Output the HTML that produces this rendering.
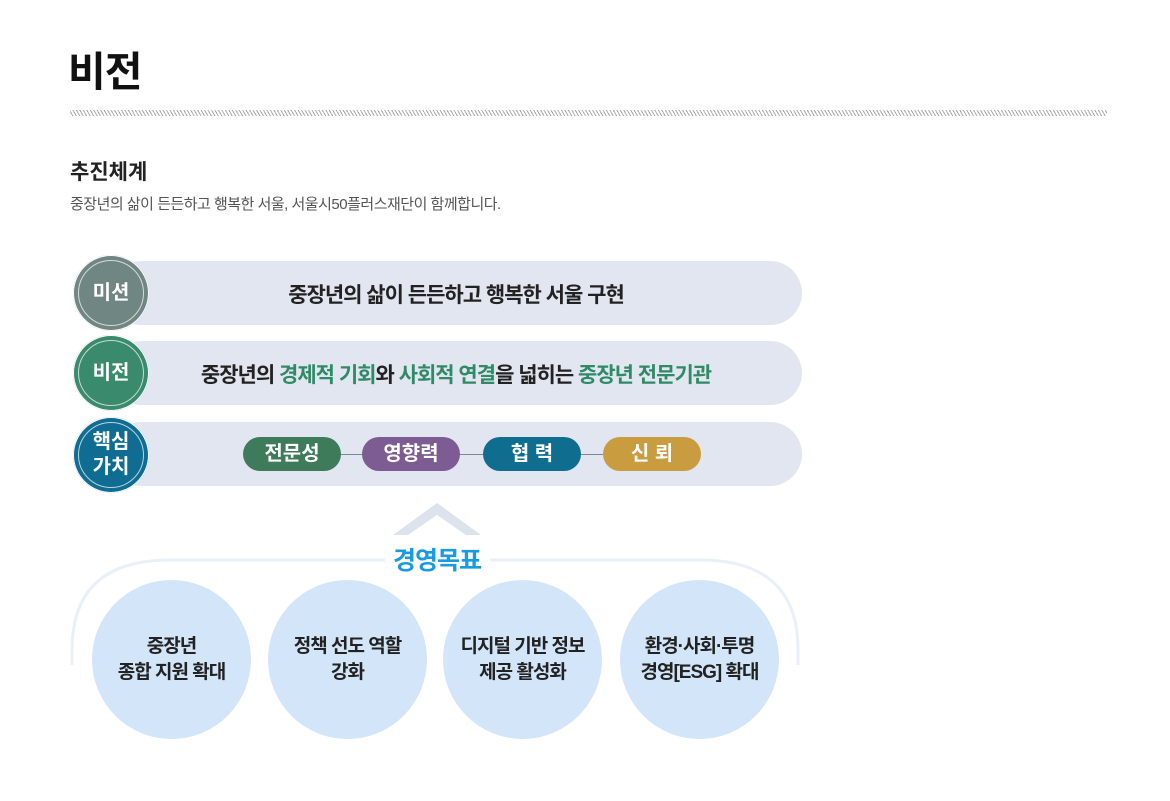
<!DOCTYPE html>
<html><head><meta charset="utf-8"><style>
body{margin:0;width:1170px;height:801px;background:#fff;position:relative;overflow:hidden;font-family:"Liberation Sans","Noto Sans CJK KR",sans-serif;}
.a{position:absolute;}
.t{white-space:nowrap;}
.bar{position:absolute;left:110px;width:692px;height:64px;background:#e1e6f0;border-radius:32px;}
.circ{position:absolute;width:76px;height:76px;border-radius:50%;color:#fff;font-weight:bold;font-size:20px;display:flex;align-items:center;justify-content:center;text-align:center;line-height:25px;box-shadow:0 0 0 1px #fff inset;}
.circ:after{content:"";position:absolute;left:5px;top:5px;right:5px;bottom:5px;border:1px solid rgba(255,255,255,.7);border-radius:50%;}
.bt{position:absolute;left:110px;width:692px;text-align:center;font-size:21px;font-weight:bold;color:#222;letter-spacing:-1px;}
.g{color:#2f8a66;}
.pill{position:absolute;top:437px;width:98px;height:34px;border-radius:17px;color:#fff;font-weight:bold;font-size:20px;text-align:center;line-height:34px;}
.gc{position:absolute;top:580px;width:159px;height:159px;border-radius:50%;background:#d3e5f9;display:flex;align-items:center;justify-content:center;text-align:center;font-weight:bold;font-size:19px;line-height:26px;color:#222;letter-spacing:-1px;}
</style></head><body>
<div class="a t" style="left:68px;top:38px;font-size:41px;font-weight:bold;color:#111;letter-spacing:-1px;">비전</div>
<div class="a" style="left:70px;top:110px;width:1037px;height:6px;background:repeating-linear-gradient(60deg,#fff 0 2px,#aaa 2px 3px);"></div>
<div class="a t" style="left:70px;top:156px;font-size:21px;font-weight:bold;color:#222;">추진체계</div>
<div class="a t" style="left:70px;top:193px;font-size:15px;color:#555;letter-spacing:-0.5px;">중장년의 삶이 든든하고 행복한 서울, 서울시50플러스재단이 함께합니다.</div>

<div class="bar" style="top:261px"></div>
<div class="bar" style="top:341px"></div>
<div class="bar" style="top:422px"></div>
<div class="circ" style="left:73px;top:255px;background:#6f8682">미션</div>
<div class="circ" style="left:73px;top:335px;background:#3a8a6e">비전</div>
<div class="circ" style="left:73px;top:417px;background:#0f6d93">핵심<br>가치</div>
<div class="bt t" style="top:279px">중장년의 삶이 든든하고 행복한 서울 구현</div>
<div class="bt t" style="top:359px">중장년의 <span class="g">경제적 기회</span>와 <span class="g">사회적 연결</span>을 넓히는 <span class="g">중장년 전문기관</span></div>
<div class="a" style="left:340px;top:454px;width:263px;height:1px;background:#7a8a90"></div>
<div class="pill" style="left:243px;background:#3d7b5b">전문성</div>
<div class="pill" style="left:362px;background:#7d5b93">영향력</div>
<div class="pill" style="left:483px;background:#0f6e90">협 력</div>
<div class="pill" style="left:603px;background:#c89c3f">신 뢰</div>

<svg class="a" style="left:0;top:0" width="1170" height="801">
<polygon points="393,535 437,503 481,535 466,535 437,515 408,535" fill="#dde3ec"/>
<path d="M72,665 L72,650 Q72,560 170,560 L385,560" fill="none" stroke="#e8f0f9" stroke-width="3"/>
<path d="M490,560 L700,560 Q798,560 798,650 L798,665" fill="none" stroke="#e8f0f9" stroke-width="3"/>
</svg>
<div class="a t" style="left:385px;top:541px;width:104px;text-align:center;font-size:25px;font-weight:bold;color:#1a9be0;letter-spacing:-1px;">경영목표</div>

<div class="gc" style="left:92px">중장년<br>종합 지원 확대</div>
<div class="gc" style="left:268px">정책 선도 역할<br>강화</div>
<div class="gc" style="left:443px">디지털 기반 정보<br>제공 활성화</div>
<div class="gc" style="left:620px">환경·사회·투명<br>경영[ESG] 확대</div>
</body></html>
